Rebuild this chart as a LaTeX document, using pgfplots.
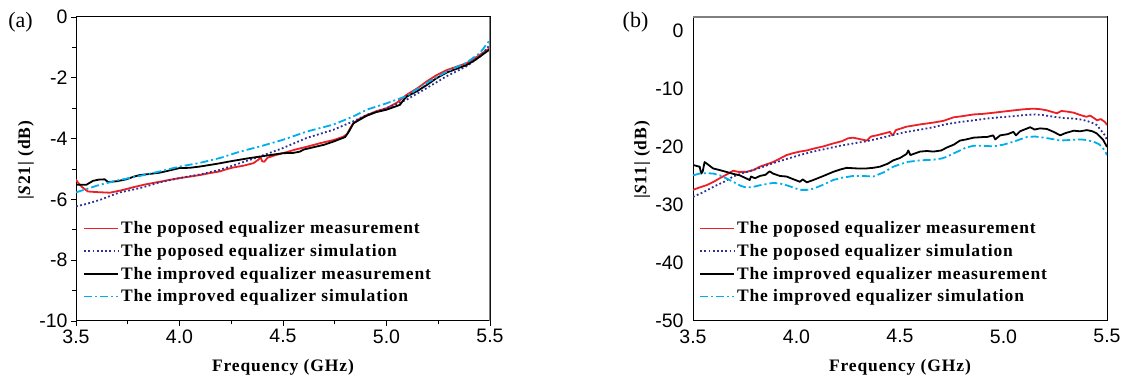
\documentclass[border=0pt]{standalone}
\usepackage{fontspec}
\setmainfont{Liberation Serif}
\newfontfamily\arialfont{Liberation Sans}
\usepackage{pgfplots}
\pgfplotsset{compat=1.18}
\definecolor{cred}{RGB}{236,32,38}
\definecolor{cblue}{RGB}{46,49,146}
\definecolor{ccyan}{RGB}{0,174,239}
\newcommand{\lfont}{\fontsize{17.5}{19}\selectfont\bfseries\addfontfeature{LetterSpace=5}}
\pgfplotsset{
  common/.style={
    scale only axis, width=414pt, height=304pt,
    xmin=3.5, xmax=5.5,
    xtick={3.5,4.0,4.5,5.0,5.5},
    /pgf/number format/assume math mode=true,
    ticklabel style={font=\arialfont\fontsize{19.5}{19.5}\selectfont},
    xticklabel style={/pgf/number format/.cd, fixed, fixed zerofill, precision=1, /tikz/.cd},
    axis line style={line width=1pt},
    xlabel={Frequency (GHz)},
    label style={font=\lfont},
    xlabel style={at={(axis description cs:0.5,-0.151)}, anchor=center},
    legend cell align=left,
    legend style={draw=none, fill=none, inner sep=0pt, row sep=5pt,
      nodes={inner sep=2pt, font=\lfont}},
    legend image code/.code={\draw[#1] (0pt,0pt) -- (34pt,0pt);},
    every axis plot/.append style={line join=round},
  },
  meas/.style={line width=1.8pt},
  sim1/.style={cblue, line width=1.8pt, dash pattern=on 1.8pt off 2.4pt},
  sim2/.style={ccyan, line width=1.8pt, dash pattern=on 8pt off 3pt on 2pt off 3pt},
}
\begin{document}
\begin{tikzpicture}
\useasboundingbox (0,0) rectangle (1121pt,379pt);
\node[font=\fontsize{22}{22}\selectfont] at (20.5pt,357pt) {(a)};
\node[font=\fontsize{22}{22}\selectfont] at (635.5pt,357pt) {(b)};
\begin{axis}[common, at={(76pt,58pt)}, anchor=south west,
  ymin=-10, ymax=0, ytick={-10,-8,-6,-4,-2,0},
  minor tick num=1, tick align=outside, xtick pos=bottom, ytick pos=left,
  major tick length=5pt, minor tick length=3.5pt,
  tick style={line width=0.9pt, black},
  ylabel={|\textit{S}21| (dB)},
  ylabel style={at={(axis description cs:-0.121,0.53)}, anchor=center, rotate=0},
  legend style={at={(axis description cs:0.017,0.334)}, anchor=north west},
]
\addplot[cred, meas] coordinates {
(3.5,-5.35) (3.51,-5.45) (3.53,-5.6) (3.558,-5.74) (3.6,-5.76) (3.663,-5.78) (3.72,-5.70) (3.776,-5.6) (3.84,-5.5) (3.905,-5.42) (3.95,-5.36) (4.0,-5.3) (4.05,-5.25) (4.098,-5.2) (4.15,-5.13) (4.195,-5.08) (4.23,-5.0) (4.26,-4.95) (4.31,-4.89) (4.356,-4.81) (4.38,-4.70) (4.392,-4.62) (4.40,-4.75) (4.41,-4.76) (4.425,-4.63) (4.46,-4.55) (4.5,-4.48) (4.56,-4.36) (4.614,-4.27) (4.68,-4.15) (4.743,-4.05) (4.791,-3.94) (4.81,-3.85) (4.825,-3.65) (4.84,-3.49) (4.87,-3.35) (4.904,-3.23) (4.95,-3.1) (5.0,-3.0) (5.05,-2.82) (5.097,-2.56) (5.15,-2.34) (5.194,-2.12) (5.24,-1.92) (5.29,-1.75) (5.34,-1.63) (5.387,-1.52) (5.42,-1.38) (5.452,-1.24) (5.5,-1.02)};
\addlegendentry{The poposed equalizer measurement}
\addplot[sim1] coordinates {
(3.5,-6.23) (3.55,-6.15) (3.614,-6.02) (3.66,-5.9) (3.711,-5.77) (3.76,-5.70) (3.808,-5.63) (3.86,-5.53) (3.905,-5.44) (3.95,-5.37) (4.0,-5.3) (4.098,-5.18) (4.195,-5.03) (4.291,-4.81) (4.388,-4.59) (4.5,-4.31) (4.614,-3.98) (4.743,-3.71) (4.84,-3.43) (4.904,-3.22) (5.0,-3.0) (5.097,-2.72) (5.194,-2.34) (5.29,-1.95) (5.387,-1.62) (5.452,-1.30) (5.5,-0.91)};
\addlegendentry{The poposed equalizer simulation}
\addplot[black, meas] coordinates {
(3.5,-5.52) (3.55,-5.52) (3.582,-5.39) (3.61,-5.35) (3.639,-5.34) (3.655,-5.43) (3.70,-5.40) (3.743,-5.34) (3.78,-5.25) (3.808,-5.2) (3.86,-5.16) (3.905,-5.12) (3.95,-5.05) (4.0,-4.97) (4.05,-4.96) (4.098,-4.92) (4.18,-4.83) (4.26,-4.73) (4.34,-4.64) (4.42,-4.56) (4.5,-4.48) (4.55,-4.47) (4.581,-4.43) (4.60,-4.36) (4.65,-4.28) (4.70,-4.2) (4.743,-4.10) (4.8,-3.95) (4.82,-3.75) (4.84,-3.5) (4.87,-3.38) (4.904,-3.25) (4.95,-3.13) (5.0,-3.05) (5.065,-2.89) (5.08,-2.75) (5.097,-2.62) (5.15,-2.43) (5.194,-2.24) (5.24,-2.02) (5.29,-1.83) (5.34,-1.70) (5.387,-1.58) (5.42,-1.45) (5.452,-1.30) (5.5,-1.06)};
\addlegendentry{The improved equalizer measurement}
\addplot[sim2] coordinates {
(3.5,-5.77) (3.55,-5.66) (3.614,-5.52) (3.711,-5.36) (3.808,-5.23) (3.905,-5.08) (4.0,-4.92) (4.098,-4.8) (4.195,-4.64) (4.291,-4.43) (4.388,-4.26) (4.5,-4.04) (4.614,-3.77) (4.743,-3.54) (4.84,-3.27) (4.904,-3.05) (5.0,-2.84) (5.097,-2.6) (5.194,-2.17) (5.29,-1.8) (5.387,-1.5) (5.452,-1.18) (5.5,-0.75)};
\addlegendentry{The improved equalizer simulation}
\draw[gray, line width=1.3pt] (rel axis cs:1,0) -- (rel axis cs:1,1);
\end{axis}
\begin{axis}[common, at={(693pt,58pt)}, anchor=south west,
  ymin=-50, ymax=2.4, ytick={-50,-40,-30,-20,-10,0},
  major tick length=0pt,
  xticklabel style={/tikz/yshift=-5pt},
  yticklabel style={/tikz/xshift=-6pt},
  ylabel={|\textit{S}11| (dB)},
  ylabel style={at={(axis description cs:-0.123,0.53)}, anchor=center},
  legend style={at={(axis description cs:0.0145,0.334)}, anchor=north west},
]
\addplot[cred, meas] coordinates {
(3.5,-27.4) (3.53,-27.0) (3.565,-26.6) (3.6,-26.0) (3.629,-25.4) (3.66,-24.8) (3.694,-24.1) (3.72,-24.3) (3.758,-24.3) (3.79,-24.0) (3.823,-23.4) (3.855,-23.0) (3.887,-22.6) (3.92,-22.0) (3.952,-21.4) (3.98,-21.1) (4.016,-20.8) (4.05,-20.6) (4.081,-20.3) (4.13,-19.9) (4.177,-19.4) (4.22,-19.0) (4.25,-18.5) (4.274,-18.4) (4.30,-18.6) (4.339,-18.9) (4.36,-18.2) (4.387,-18.0) (4.42,-17.7) (4.452,-17.4) (4.46,-17.9) (4.465,-18.0) (4.48,-17.1) (4.532,-16.5) (4.60,-16.1) (4.661,-15.8) (4.71,-15.5) (4.758,-14.9) (4.80,-14.7) (4.855,-14.4) (4.90,-14.3) (4.952,-14.1) (5.0,-13.9) (5.048,-13.7) (5.10,-13.5) (5.145,-13.4) (5.18,-13.5) (5.21,-13.7) (5.258,-14.2) (5.28,-13.8) (5.306,-13.9) (5.34,-14.1) (5.371,-14.5) (5.40,-14.8) (5.419,-14.6) (5.44,-15.1) (5.452,-15.4) (5.47,-15.2) (5.49,-15.7) (5.5,-16.2)};
\addlegendentry{The poposed equalizer measurement}
\addplot[sim1] coordinates {
(3.5,-28.6) (3.55,-27.8) (3.597,-26.9) (3.65,-26.0) (3.694,-25.1) (3.74,-24.5) (3.79,-24.0) (3.84,-23.4) (3.887,-22.8) (3.95,-22.1) (4.016,-21.4) (4.08,-20.8) (4.145,-20.3) (4.21,-19.8) (4.274,-19.4) (4.34,-19.0) (4.403,-18.5) (4.47,-17.9) (4.532,-17.4) (4.60,-17.0) (4.661,-16.6) (4.72,-16.1) (4.79,-15.7) (4.86,-15.4) (4.919,-15.1) (4.98,-14.9) (5.048,-14.7) (5.10,-14.5) (5.145,-14.4) (5.19,-14.5) (5.242,-14.8) (5.29,-15.0) (5.339,-15.1) (5.38,-15.3) (5.419,-15.7) (5.45,-16.2) (5.468,-17.0) (5.49,-18.0) (5.5,-18.8)};
\addlegendentry{The poposed equalizer simulation}
\addplot[black, meas] coordinates {
(3.5,-23.1) (3.52,-23.3) (3.532,-23.4) (3.54,-24.6) (3.547,-24.2) (3.556,-22.6) (3.575,-23.1) (3.597,-23.7) (3.63,-24.0) (3.661,-24.3) (3.69,-24.6) (3.726,-24.9) (3.75,-25.3) (3.774,-25.7) (3.78,-25.1) (3.80,-25.4) (3.823,-25.0) (3.85,-24.8) (3.87,-24.2) (3.887,-24.6) (3.92,-25.0) (3.952,-25.1) (3.98,-25.5) (4.016,-26.0) (4.03,-25.6) (4.05,-26.1) (4.081,-25.7) (4.13,-25.0) (4.177,-24.3) (4.21,-23.9) (4.242,-23.6) (4.29,-23.7) (4.339,-23.7) (4.37,-23.6) (4.403,-23.4) (4.44,-22.9) (4.468,-22.3) (4.50,-21.9) (4.532,-21.2) (4.54,-20.6) (4.55,-21.4) (4.597,-20.8) (4.63,-20.7) (4.661,-20.8) (4.70,-20.6) (4.726,-20.1) (4.76,-19.6) (4.79,-18.9) (4.82,-18.7) (4.855,-18.4) (4.90,-18.3) (4.919,-18.3) (4.95,-18.0) (4.96,-18.7) (4.984,-18.0) (5.02,-17.8) (5.048,-17.4) (5.06,-18.0) (5.08,-17.3) (5.129,-16.6) (5.15,-17.0) (5.177,-16.8) (5.21,-16.9) (5.242,-17.4) (5.274,-18.0) (5.30,-17.6) (5.339,-17.2) (5.37,-17.3) (5.403,-17.1) (5.43,-17.3) (5.452,-17.7) (5.48,-18.7) (5.5,-20.0)};
\addlegendentry{The improved equalizer measurement}
\addplot[sim2] coordinates {
(3.5,-24.9) (3.53,-24.6) (3.565,-24.5) (3.60,-24.6) (3.629,-24.9) (3.66,-25.4) (3.694,-26.0) (3.73,-26.7) (3.758,-27.0) (3.79,-26.9) (3.823,-26.6) (3.855,-26.4) (3.887,-26.2) (3.92,-26.3) (3.952,-26.6) (3.985,-27.0) (4.016,-27.4) (4.05,-27.4) (4.081,-27.2) (4.13,-26.5) (4.177,-25.7) (4.22,-25.3) (4.274,-25.0) (4.32,-25.0) (4.371,-25.1) (4.42,-24.4) (4.468,-23.4) (4.50,-23.0) (4.532,-22.6) (4.60,-22.3) (4.661,-22.2) (4.70,-22.0) (4.726,-21.7) (4.76,-21.1) (4.79,-20.6) (4.82,-20.1) (4.855,-19.8) (4.90,-19.8) (4.952,-19.9) (5.0,-19.6) (5.048,-19.1) (5.08,-18.7) (5.113,-18.3) (5.15,-18.2) (5.177,-18.3) (5.23,-18.6) (5.274,-18.9) (5.32,-18.8) (5.371,-18.7) (5.40,-18.8) (5.435,-19.1) (5.46,-19.5) (5.476,-20.0) (5.49,-20.7) (5.5,-21.4)};
\addlegendentry{The improved equalizer simulation}
\draw[gray, line width=1.3pt] (rel axis cs:0,1) -- (rel axis cs:1,1);
\end{axis}
\end{tikzpicture}
\end{document}
